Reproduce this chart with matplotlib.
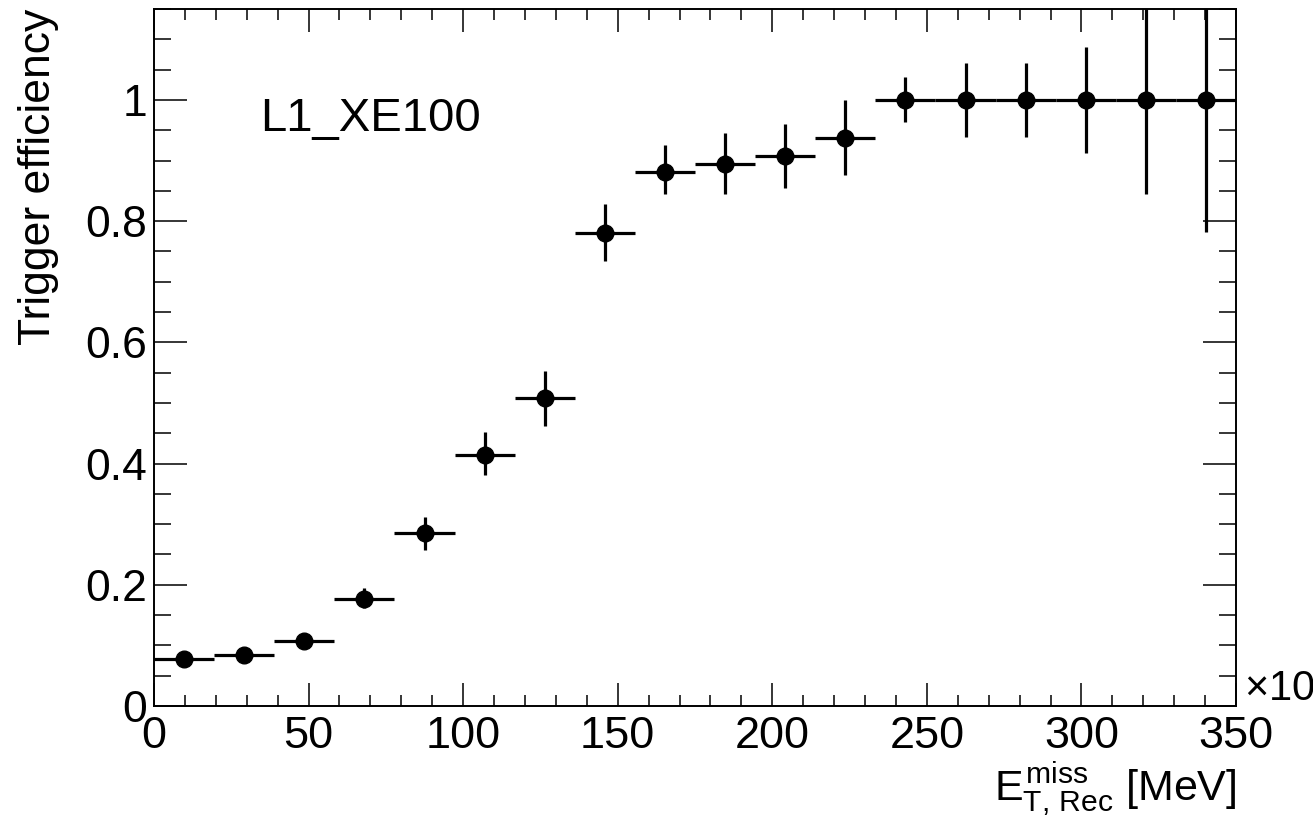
import matplotlib
matplotlib.use("Agg")
import matplotlib.pyplot as plt
from matplotlib.ticker import MultipleLocator

plt.rcParams['font.family'] = ['Liberation Sans', 'DejaVu Sans']
plt.rcParams['mathtext.fontset'] = 'custom'
plt.rcParams['mathtext.rm'] = 'Liberation Sans'
plt.rcParams['mathtext.it'] = 'Liberation Sans'
plt.rcParams['mathtext.bf'] = 'Liberation Sans:bold'

# ---- data (x in units of 10^3 MeV) ----
bin_centers = [9.72, 29.17, 48.61, 68.06, 87.50, 106.94, 126.39, 145.83, 165.28,
               184.72, 204.17, 223.61, 243.06, 262.50, 281.94, 301.39, 320.83, 340.28]
bin_halfwidth = [9.72] * 18
efficiency = [0.077, 0.084, 0.108, 0.177, 0.285, 0.414, 0.508, 0.780, 0.881,
              0.894, 0.907, 0.937, 1.0, 1.0, 1.0, 1.0, 1.0, 1.0]
err_low = [0.008, 0.009, 0.011, 0.015, 0.028, 0.033, 0.046, 0.046, 0.036,
           0.049, 0.052, 0.061, 0.037, 0.061, 0.061, 0.088, 0.155, 0.218]
err_high = [0.008, 0.009, 0.011, 0.018, 0.027, 0.038, 0.045, 0.048, 0.045,
            0.052, 0.053, 0.063, 0.037, 0.061, 0.061, 0.088, 0.155, 0.218]
trigger_name = "L1_XE100"

fig = plt.figure(figsize=(13.13, 8.24), dpi=100)
ax = fig.add_axes([154/1313, 1 - 706/824, (1236-154)/1313, (706-9)/824])

ax.errorbar(bin_centers, efficiency, yerr=[err_low, err_high], xerr=bin_halfwidth,
            fmt='o', color='black', ms=12, elinewidth=2.3, capsize=0, clip_on=True)

ax.set_xlim(0, 350)
ax.set_ylim(0, 1.15)
ax.xaxis.set_major_locator(MultipleLocator(50))
ax.xaxis.set_minor_locator(MultipleLocator(10))
ax.yaxis.set_major_locator(MultipleLocator(0.2))
ax.yaxis.set_minor_locator(MultipleLocator(0.05))
ax.set_yticks([0, 0.2, 0.4, 0.6, 0.8, 1.0])
ax.set_yticklabels(['0', '0.2', '0.4', '0.6', '0.8', '1'])

for s in ax.spines.values():
    s.set_linewidth(1.4)

ax.tick_params(axis='x', which='major', direction='in', length=16.5, width=1.1,
               top=True, labelsize=32.5, pad=7)
ax.tick_params(axis='x', which='minor', direction='in', length=8, width=1.1, top=True)
ax.tick_params(axis='y', which='major', direction='in', length=23.5, width=1.1,
               right=True, labelsize=32, pad=5)
ax.tick_params(axis='y', which='minor', direction='in', length=12, width=1.1, right=True)

ax.set_ylabel("Trigger efficiency", fontsize=32, loc='top')
ax.yaxis.set_label_coords(-0.088, 1.0)
ax.set_xlabel(r"$E_{\mathrm{T,\,Rec}}^{\mathrm{miss}}$ [MeV]", fontsize=31, loc='right')
ax.xaxis.set_label_coords(1.0, -0.078)

ax.text(34.3, 0.949, trigger_name, fontsize=34, ha='left', va='baseline')
fig.text(1244/1313, 1 - 690/824, r"$\times10^{3}$", fontsize=30, ha='left', va='center')

fig.savefig("out.png", dpi=100)
